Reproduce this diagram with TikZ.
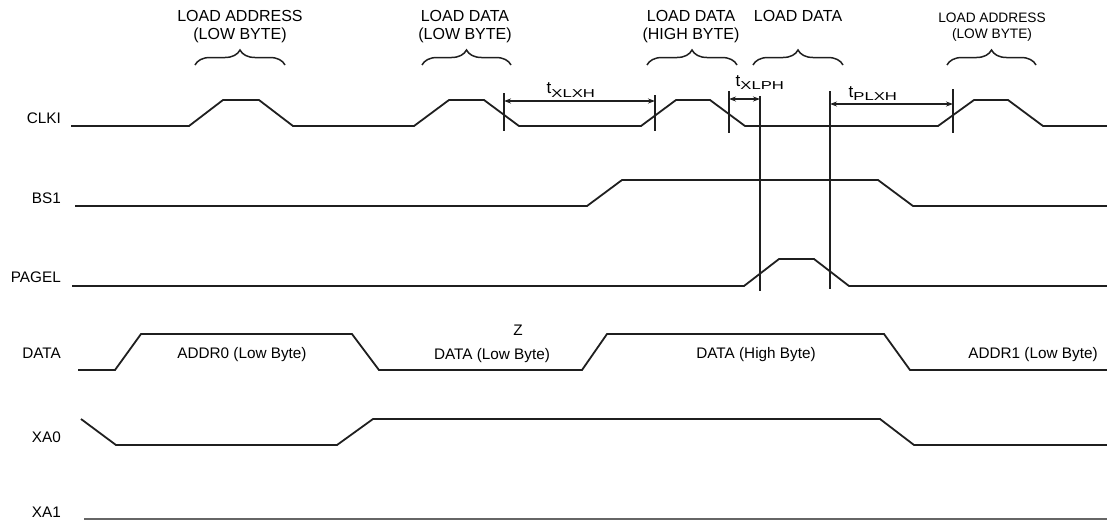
\documentclass[tikz,border=0pt]{standalone}
\usepackage{fontspec}
\usepackage{graphicx}
\setmainfont{Liberation Sans}
\usetikzlibrary{arrows.meta,decorations.pathreplacing}
\newcommand\tlab[2]{{\fontsize{17}{17}\selectfont t}\raisebox{#2}{\scalebox{1.45}[1]{\fontsize{11.5}{12}\selectfont #1}}}
\begin{document}
\begin{tikzpicture}[x=1pt,y=-1pt,
  wave/.style={line width=1.8pt,color=black!88},
  marker/.style={line width=1.6pt,color=black!88},
  dim/.style={line width=1.2pt,color=black!88,{Stealth[length=7pt,width=5pt]}-{Stealth[length=7pt,width=5pt]}},
  brc/.style={line width=1.5pt,color=black!88,decorate,decoration={brace,amplitude=15pt,aspect=0.5}},
  sig/.style={anchor=east,inner sep=0pt,font=\fontsize{15.3}{16}\selectfont},
  dtxt/.style={anchor=base,inner sep=0pt,font=\fontsize{15.3}{16}\selectfont},
  toplab/.style={anchor=base,inner sep=0pt,font=\fontsize{16}{17}\selectfont},
  smalllab/.style={anchor=base,inner sep=0pt,font=\fontsize{13.7}{14}\selectfont},
  tl/.style={anchor=base west,inner sep=0pt}]
\useasboundingbox (0,0) rectangle (1107,520);

% signal names
\node[sig] (nclki) at (61,118) {CLKI};
\node[sig] (nbs1) at (61,198) {BS1};
\node[sig] (npagel) at (61,277) {PAGEL};
\node[sig] (ndata) at (61,353) {DATA};
\node[sig] (nxa0) at (61,437) {XA0};
\node[sig] (nxa1) at (61,512) {XA1};

% top labels
\node[toplab] (la1a) at (240,21) {LOAD ADDRESS};
\node[toplab] (la1b) at (240,39) {(LOW BYTE)};
\node[toplab] (ld2a) at (465,21) {LOAD DATA};
\node[toplab] (ld2b) at (465,39) {(LOW BYTE)};
\node[toplab] (ld3a) at (691,21) {LOAD DATA};
\node[toplab] (ld3b) at (691,39) {(HIGH BYTE)};
\node[toplab] (ld4a) at (798,21) {LOAD DATA};
\node[smalllab] (la5a) at (992,22.3) {LOAD ADDRESS};
\node[smalllab] (la5b) at (992,38.3) {(LOW BYTE)};

% braces
\coordinate (b1l) at (195,65); \coordinate (b1r) at (285,65);
\coordinate (b2l) at (422,65); \coordinate (b2r) at (511,65);
\coordinate (b3l) at (647,65); \coordinate (b3r) at (737,65);
\coordinate (b4l) at (753,65); \coordinate (b4r) at (843,65);
\coordinate (b5l) at (947,65); \coordinate (b5r) at (1036,65);
\draw[brc] (b1l) -- (b1r);
\draw[brc] (b2l) -- (b2r);
\draw[brc] (b3l) -- (b3r);
\draw[brc] (b4l) -- (b4r);
\draw[brc] (b5l) -- (b5r);

% waveforms
\draw[wave] (71,126) -- (189,126) -- (223,100) -- (259,100) -- (293,126) -- (414,126) -- (449,100) -- (484,100) -- (519,126) -- (641,126) -- (676,100) -- (710,100) -- (745,126) -- (938,126) -- (974,100) -- (1008,100) -- (1043,126) -- (1107,126);
\draw[wave] (75,206) -- (587,206) -- (622,180) -- (878,180) -- (913,206) -- (1107,206);
\draw[wave] (72,286) -- (744,286) -- (779,259) -- (814,259) -- (849,286) -- (1107,286);
\draw[wave] (78,370) -- (115,370) -- (141,334) -- (352,334) -- (379,370) -- (582,370) -- (607,334) -- (884,334) -- (910,370) -- (1107,370);
\draw[wave] (81,419) -- (116,445) -- (337,445) -- (373,419) -- (880,419) -- (914,445) -- (1107,445);
\draw[line width=1.3pt,color=black!60] (84,519) -- (1107,519);

% data labels
\node[dtxt] (d1) at (242,358.5) {ADDR0 (Low Byte)};
\node[dtxt] (dz) at (518,335.5) {Z};
\node[dtxt] (d2) at (492,359.5) {DATA (Low Byte)};
\node[dtxt] (d3) at (756,358.5) {DATA (High Byte)};
\node[dtxt] (d4) at (1033,358.5) {ADDR1 (Low Byte)};

% timing markers
\coordinate (m1t) at (504,93);  \coordinate (m1b) at (504,131);
\coordinate (m2t) at (655,95);  \coordinate (m2b) at (655,131);
\coordinate (m3t) at (729,91);  \coordinate (m3b) at (729,133);
\coordinate (m4t) at (760,96);  \coordinate (m4b) at (760,291);
\coordinate (m5t) at (830,91);  \coordinate (m5b) at (830,289);
\coordinate (m6t) at (953,89);  \coordinate (m6b) at (953,133);
\draw[marker] (m1t) -- (m1b);
\draw[marker] (m2t) -- (m2b);
\draw[marker] (m3t) -- (m3b);
\draw[marker] (m4t) -- (m4b);
\draw[marker] (m5t) -- (m5b);
\draw[marker] (m6t) -- (m6b);

% dimension arrows
\coordinate (a1l) at (504,101); \coordinate (a1r) at (655,101);
\coordinate (a2l) at (729,99);  \coordinate (a2r) at (760,99);
\coordinate (a3l) at (830,104); \coordinate (a3r) at (953,104);
\draw[dim] (a1l) -- (a1r);
\draw[dim] (a2l) -- (a2r);
\draw[dim] (a3l) -- (a3r);

\node[tl] (txlxh) at (546.5,93) {\tlab{XLXH}{-4pt}};
\node[tl] (txlph) at (735.5,86) {\tlab{XLPH}{-3.5pt}};
\node[tl] (tplxh) at (848.5,97) {\tlab{PLXH}{-3.5pt}};
\end{tikzpicture}
\end{document}
